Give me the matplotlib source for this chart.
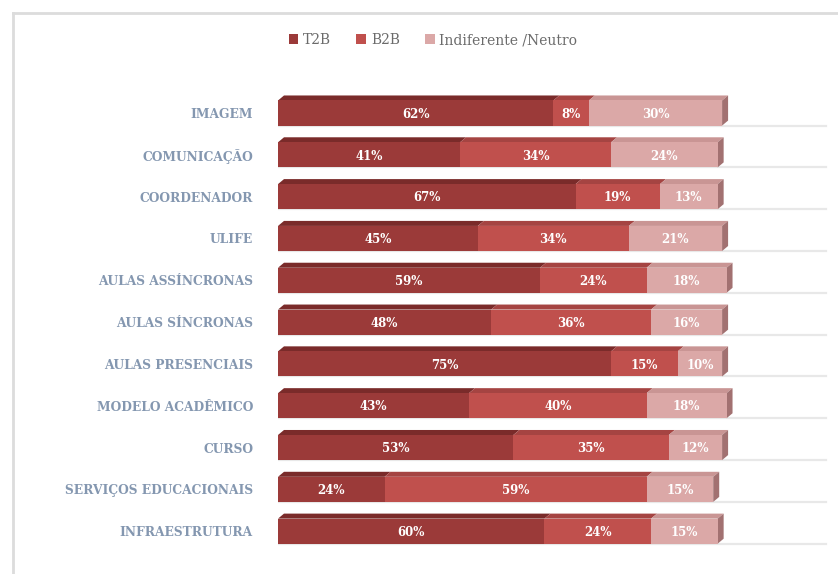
import matplotlib.pyplot as plt
from matplotlib.patches import Polygon
from matplotlib.lines import Line2D

categories = [
    "IMAGEM", "COMUNICAÇÃO", "COORDENADOR", "ULIFE", "AULAS ASSÍNCRONAS",
    "AULAS SÍNCRONAS", "AULAS PRESENCIAIS", "MODELO ACADÊMICO", "CURSO",
    "SERVIÇOS EDUCACIONAIS", "INFRAESTRUTURA",
]
t2b = [62, 41, 67, 45, 59, 48, 75, 43, 53, 24, 60]
b2b = [8, 34, 19, 34, 24, 36, 15, 40, 35, 59, 24]
neutro = [30, 24, 13, 21, 18, 16, 10, 18, 12, 15, 15]
series_names = ["T2B", "B2B", "Indiferente /Neutro"]

front_colors = ["#9b3a39", "#c0504d", "#dba8a7"]
top_colors = ["#7a2b2a", "#a54442", "#c99594"]
side_color = "#a27171"

fig = plt.figure(figsize=(8.38, 5.74), dpi=100)
ax = fig.add_axes([278 / 838, 19 / 574, 560 / 838, 475 / 574])

h = 0.6
dx, dy = 1.35, 0.12
ys = list(range(len(categories)))

# floor / wall lines
for y in ys:
    ax.plot([0, 123.4], [y + h / 2, y + h / 2], color="#e8e8e8", lw=1.6, zorder=0)
ax.plot([-0.4, -0.4], [-0.75, 10.45], color="#d9d9d9", lw=1.2, zorder=0)

lefts = [0] * len(categories)
for k, vals in enumerate([t2b, b2b, neutro]):
    ax.barh(ys, vals, left=lefts, height=h, color=front_colors[k],
            label=series_names[k], zorder=3)
    for y, x0, v in zip(ys, lefts, vals):
        top = y - h / 2
        ax.add_patch(Polygon([(x0, top), (x0 + v, top), (x0 + v + dx, top - dy),
                              (x0 + dx, top - dy)], closed=True,
                             facecolor=top_colors[k], edgecolor="none", zorder=2))
        ax.text(x0 + v / 2, y + 0.03, f"{v}%", ha="center", va="center",
                color="white", fontsize=8.5, fontweight="bold",
                family="DejaVu Serif", zorder=5)
    lefts = [a + b for a, b in zip(lefts, vals)]

for y, xe in zip(ys, lefts):
    top, bot = y - h / 2, y + h / 2
    ax.add_patch(Polygon([(xe, top), (xe + dx, top - dy), (xe + dx, bot - dy),
                          (xe, bot)], closed=True, facecolor=side_color,
                         edgecolor="none", zorder=2))

ax.set_xlim(0, 126.1)
ax.set_ylim(10.57, -0.79)
ax.set_xticks([])
ax.set_yticks(ys)
ax.set_yticklabels(categories, family="DejaVu Serif", fontweight="bold",
                   fontsize=8.8, color="#8497b0")
ax.tick_params(axis="y", length=0, pad=18)
for s in ax.spines.values():
    s.set_visible(False)

fig.legend(loc="center", bbox_to_anchor=(433 / 838, 1 - 40 / 574), ncol=3,
           frameon=False, handlelength=0.7, handleheight=0.7,
           handletextpad=0.35, columnspacing=1.8,
           prop={"family": "DejaVu Serif", "size": 10}, labelcolor="#6b6b6b")

# chart border (left and top edges)
fig.add_artist(Line2D([13 / 838, 13 / 838], [0, 1 - 13 / 574],
                      transform=fig.transFigure, color="#dcdcdc", lw=2))
fig.add_artist(Line2D([13 / 838, 1], [1 - 13 / 574, 1 - 13 / 574],
                      transform=fig.transFigure, color="#dcdcdc", lw=2))

fig.savefig("out.png", dpi=100)
